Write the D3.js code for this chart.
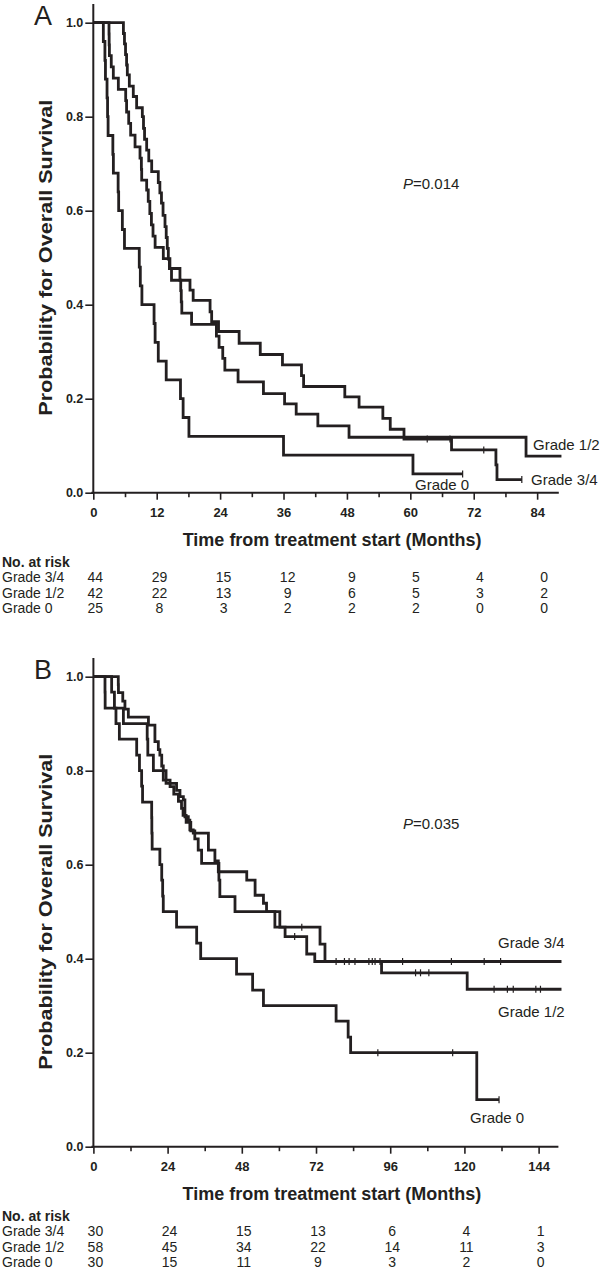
<!DOCTYPE html>
<html><head><meta charset="utf-8">
<script src="https://cdn.jsdelivr.net/npm/d3@7"></script>
<style>
body{margin:0;background:#fff}
svg{display:block}
text{font-family:"Liberation Sans",Arial,Helvetica,sans-serif;fill:#231f20}
</style>
</head><body>
<svg id="c" width="600" height="1269"></svg>
<script>
// ---------- DATA ----------
const groups = ["Grade 3/4", "Grade 1/2", "Grade 0"];
const yTicks = [0, 0.2, 0.4, 0.6, 0.8, 1.0];

// Panel A
const A_xTicks = [0, 12, 24, 36, 48, 60, 72, 84];
const A_xMinor = [6, 18, 30, 42, 54, 66, 78];
const A_g34 = [[0,1],[5.7,0.977],[5.9,0.955],[6.1,0.932],[6.3,0.91],[6.44,0.889],[6.82,0.865],[7.57,0.843],[8.2,0.819],[9.28,0.80],[9.5,0.775],[9.7,0.752],[10.1,0.729],[10.5,0.706],[11.05,0.683],[12.3,0.66],[12.6,0.638],[12.9,0.616],[13.2,0.59],[13.57,0.566],[13.8,0.543],[14.0,0.52],[14.2,0.497],[14.4,0.477],[14.8,0.452],[18.3,0.431],[18.9,0.409],[22.1,0.385],[22.4,0.364],[23.7,0.343],[27.6,0.318],[31.6,0.294],[35.8,0.272],[39.4,0.249],[39.8,0.226],[47.6,0.204],[50.3,0.182],[54.8,0.158],[56.2,0.135],[58.8,0.114],[67.8,0.091],[76.2,0.059],[76.4,0.028]];
const A_g34_end = 81.1;
const A_g34_cens = [63.2, 67.5, 73.9, 81.1];
const A_g12 = [[0,1],[2.97,0.976],[3.0,0.953],[3.05,0.93],[3.4,0.906],[3.79,0.882],[4.74,0.858],[6.13,0.834],[6.3,0.81],[6.7,0.786],[7.07,0.761],[7.9,0.736],[8.84,0.712],[9.1,0.688],[9.16,0.665],[10.1,0.644],[10.4,0.62],[10.7,0.594],[11.0,0.57],[11.3,0.546],[11.7,0.522],[13.25,0.498],[14.5,0.477],[16.4,0.452],[16.55,0.43],[16.65,0.406],[16.75,0.382],[18.6,0.358],[23.3,0.333],[23.8,0.309],[24.5,0.286],[24.9,0.261],[27.4,0.236],[32.2,0.211],[36.2,0.189],[38.4,0.167],[42.5,0.142],[48.4,0.118],[81.9,0.078]];
const A_g12_end = 88.6;
const A_g12_cens = [];
const A_g0 = [[0,1],[1.9,0.96],[2.2,0.92],[2.3,0.88],[2.6,0.84],[2.7,0.80],[2.8,0.76],[3.7,0.72],[3.8,0.68],[4.7,0.64],[4.8,0.60],[5.5,0.56],[5.9,0.52],[8.7,0.48],[8.9,0.44],[9.2,0.40],[11.5,0.36],[11.7,0.32],[12.3,0.28],[13.8,0.24],[16.5,0.20],[17.0,0.16],[18.1,0.12],[36,0.08],[60.5,0.04]];
const A_g0_end = 69.9;
const A_g0_cens = [69.9];
const A_risk34 = [44, 29, 15, 12, 9, 5, 4, 0];
const A_risk12 = [42, 22, 13, 9, 6, 5, 3, 2];
const A_risk0  = [25, 8, 3, 2, 2, 2, 0, 0];
const A_p = "0.014";

// Panel B
const B_xTicks = [0, 24, 48, 72, 96, 120, 144];
const B_xMinor = [12, 36, 60, 84, 108, 132];
const B_g34 = [[0,1],[5.9,0.967],[6.8,0.933],[9.7,0.9],[17.4,0.867],[17.6,0.833],[19.4,0.8],[23.5,0.773],[26.9,0.758],[28.0,0.745],[29.1,0.738],[29.6,0.702],[30.7,0.695],[31.2,0.674],[32.3,0.667],[37.2,0.631],[39.3,0.608],[40.4,0.585],[49.6,0.567],[52.3,0.535],[55.0,0.518],[56.0,0.5],[60.3,0.467],[73.3,0.431],[74.9,0.394]];
const B_g34_end = 151.4;
const B_g34_cens = [67.4, 78.5, 81.2, 82.7, 84.6, 89.1, 90.2, 91.1, 92.7, 100, 115.8, 126.4, 131.7];
const B_g12 = [[0,1],[8.05,0.983],[8.1,0.966],[9.5,0.948],[10.2,0.931],[11.3,0.914],[17.8,0.897],[19.9,0.862],[21.0,0.845],[21.5,0.833],[22.1,0.81],[22.6,0.78],[24.8,0.766],[26.0,0.75],[27.5,0.735],[28.5,0.72],[29.0,0.705],[30.0,0.69],[31.5,0.672],[32.8,0.655],[33.9,0.631],[35.0,0.603],[40.6,0.567],[40.9,0.532],[45.8,0.5],[58.7,0.467],[62.0,0.447],[69.0,0.41],[71.6,0.394],[93.2,0.37],[120.9,0.335]];
const B_g12_end = 151.4;
const B_g12_cens = [65.1, 104.2, 105.8, 108.5, 129.6, 133.9, 135.8, 143.1, 144.6];
const B_g0 = [[0,1],[3.75,0.967],[3.8,0.933],[7.3,0.9],[8.4,0.867],[14.0,0.833],[14.9,0.8],[15.6,0.767],[15.9,0.733],[18.85,0.7],[18.9,0.667],[19.0,0.633],[21.5,0.6],[22.1,0.567],[22.4,0.533],[22.6,0.5],[26.9,0.467],[33.4,0.433],[34.7,0.4],[46.3,0.367],[51.5,0.333],[55,0.3],[78.5,0.267],[82.4,0.233],[83.2,0.2],[124,0.1]];
const B_g0_end = 131.2;
const B_g0_cens = [92, 116.2, 131.2];
const B_risk34 = [30, 24, 15, 13, 6, 4, 1];
const B_risk12 = [58, 45, 34, 22, 14, 11, 3];
const B_risk0  = [30, 15, 11, 9, 3, 2, 0];
const B_p = "0.035";

// ---------- DRAW ----------
const INK = "#231f20";
const FONT = '"Liberation Sans",Arial,Helvetica,sans-serif';
const svg = d3.select("#c");

function survAt(series, t) {
  let s = 1;
  for (const d of series) { if (d[0] <= t) s = d[1]; }
  return s;
}

function drawPanel(p) {
  const g = svg.append("g");
  const x = d3.scaleLinear().domain([0, p.xMax]).range([p.left, p.right]);
  const y = d3.scaleLinear().domain([0, 1]).range([p.bottom, p.bottom - 470]);

  // y axis
  const ya = g.append("g").attr("transform", `translate(${p.left},0)`)
    .call(d3.axisLeft(y).tickValues(yTicks).tickFormat(d3.format(".1f")).tickSize(8).tickSizeOuter(0).tickPadding(2));
  ya.select(".domain").remove();
  ya.append("line").attr("x1", 0).attr("x2", 0).attr("y1", y(0)).attr("y2", y(1.04))
    .attr("stroke", INK).attr("stroke-width", 2);
  ya.selectAll(".tick line").attr("stroke", INK).attr("stroke-width", 1.6);
  ya.selectAll(".tick text").attr("fill", INK).style("font-family", FONT)
    .style("font-size", "12.5px").style("font-weight", "bold");

  // x axis major
  const xa = g.append("g").attr("transform", `translate(0,${p.bottom})`)
    .call(d3.axisBottom(x).tickValues(p.xTicks).tickSize(7).tickSizeOuter(0));
  xa.select(".domain").remove();
  xa.append("line").attr("x1", p.left - 2).attr("x2", x(p.xMax)).attr("y1", 0).attr("y2", 0)
    .attr("stroke", INK).attr("stroke-width", 2);
  xa.selectAll(".tick line").attr("stroke", INK).attr("stroke-width", 1.6);
  xa.selectAll(".tick text").attr("fill", INK).attr("y", 24.5).attr("dy", 0)
    .style("font-family", FONT).style("font-size", "13px").style("font-weight", "bold");
  // x axis minor
  const xm = g.append("g").attr("transform", `translate(0,${p.bottom})`)
    .call(d3.axisBottom(x).tickValues(p.xMinor).tickSize(4.5).tickSizeOuter(0).tickFormat(""));
  xm.select(".domain").remove();
  xm.selectAll(".tick line").attr("stroke", INK).attr("stroke-width", 1.6);

  // curves
  const line = d3.line().x(d => x(d[0])).y(d => y(d[1])).curve(d3.curveStepAfter);
  p.series.forEach(sr => {
    const pts = sr.data.concat([[sr.end, sr.data[sr.data.length - 1][1]]]);
    g.append("path").attr("d", line(pts)).attr("fill", "none")
      .attr("stroke", INK).attr("stroke-width", 2.8).attr("stroke-linejoin", "miter").attr("stroke-linecap", "butt");
    g.selectAll(null).data(sr.cens).enter().append("line")
      .attr("x1", d => x(d)).attr("x2", d => x(d))
      .attr("y1", d => y(survAt(sr.data, d)) - 3.5).attr("y2", d => y(survAt(sr.data, d)) + 3.5)
      .attr("stroke", INK).attr("stroke-width", 1.2);
  });

  // panel letter
  g.append("text").attr("x", 34).attr("y", p.bottom - 467.5).text(p.letter)
    .style("font-size", "27px");
  // y title
  g.append("text").attr("transform", `translate(51.5,${(y(0) + y(1)) / 2}) rotate(-90)`)
    .attr("text-anchor", "middle").attr("textLength", 316).attr("lengthAdjust", "spacingAndGlyphs")
    .text("Probability for Overall Survival")
    .style("font-size", "18.5px").style("font-weight", "bold");
  // x title
  g.append("text").attr("x", (p.left + x(p.xMax)) / 2 + 6).attr("y", p.bottom + 53)
    .attr("text-anchor", "middle").text("Time from treatment start (Months)")
    .style("font-size", "18px").style("font-weight", "bold");
  // P value
  const pt = g.append("text").attr("x", 403).attr("y", p.pY).style("font-size", "15px");
  pt.append("tspan").style("font-style", "italic").text("P");
  pt.append("tspan").text("=" + p.pval);
  // group labels
  p.labels.forEach(l => {
    g.append("text").attr("x", l.x).attr("y", l.y).text(l.text).style("font-size", "15px");
  });
  // risk table
  g.append("text").attr("x", 2).attr("y", p.bottom + 74).text("No. at risk")
    .style("font-size", "14px").style("font-weight", "bold");
  p.risk.forEach((row, i) => {
    const yy = p.bottom + 89.5 + i * 15.5;
    g.append("text").attr("x", 2).attr("y", yy).text(groups[i]).style("font-size", "14px");
    g.selectAll(null).data(row).enter().append("text")
      .attr("x", (d, j) => x(p.xTicks[j]) + p.riskShift * j / (row.length - 1) + 2)
      .attr("y", yy).attr("text-anchor", "middle").text(d => d).style("font-size", "14px");
  });
}

drawPanel({
  letter: "A", left: 93.3, right: 558.8, xMax: 88.1, bottom: 492.7,
  xTicks: A_xTicks, xMinor: A_xMinor, pval: A_p, pY: 189, riskShift: 5,
  series: [
    {data: A_g34, end: A_g34_end, cens: A_g34_cens},
    {data: A_g12, end: A_g12_end, cens: A_g12_cens},
    {data: A_g0, end: A_g0_end, cens: A_g0_cens}
  ],
  labels: [
    {text: groups[1], x: 533, y: 450},
    {text: groups[0], x: 531, y: 485},
    {text: groups[2], x: 415, y: 490}
  ],
  risk: [A_risk34, A_risk12, A_risk0]
});

drawPanel({
  letter: "B", left: 93.4, right: 558.4, xMax: 150.4, bottom: 1146.7,
  xTicks: B_xTicks, xMinor: B_xMinor, pval: B_p, pY: 829, riskShift: 0,
  series: [
    {data: B_g34, end: B_g34_end, cens: B_g34_cens},
    {data: B_g12, end: B_g12_end, cens: B_g12_cens},
    {data: B_g0, end: B_g0_end, cens: B_g0_cens}
  ],
  labels: [
    {text: groups[0], x: 498, y: 948},
    {text: groups[1], x: 498, y: 1017},
    {text: groups[2], x: 470, y: 1123}
  ],
  risk: [B_risk34, B_risk12, B_risk0]
});
</script>
</body></html>
